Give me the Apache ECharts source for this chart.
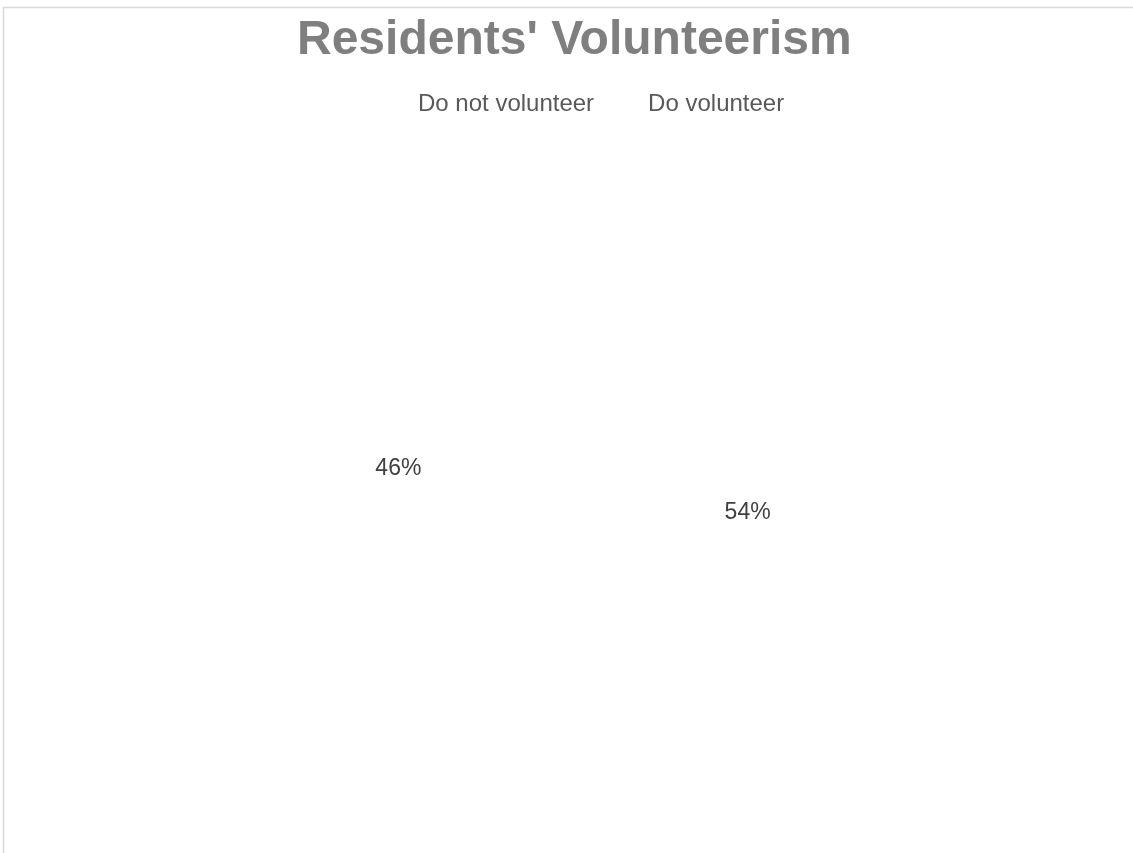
<!DOCTYPE html>
<html>
<head>
<meta charset="utf-8">
<title>Residents' Volunteerism</title>
<script src="https://cdn.jsdelivr.net/npm/echarts@6/dist/echarts.min.js"></script>
<style>
  html, body { margin: 0; padding: 0; background: #ffffff; }
  #chart { width: 1133px; height: 853px; }
</style>
</head>
<body>
<div id="chart"></div>
<script>
// Survey answers, in the order the slices are drawn clockwise from 12 o'clock
const categories = ['Do volunteer', 'Do not volunteer'];
const shares = [54, 46];
// Legend reads in this order
const legendOrder = ['Do not volunteer', 'Do volunteer'];

const chart = echarts.init(document.getElementById('chart'), null, { renderer: 'canvas' });

const FONT = '"Liberation Sans", Arial, sans-serif';

chart.setOption({
  backgroundColor: '#ffffff',
  animation: false,
  graphic: [{
    // chart frame; runs past the right and bottom edges of the page
    type: 'rect',
    silent: true,
    z: -1,
    shape: { x: 3.5, y: 7.5, width: 1300, height: 1000 },
    style: { fill: 'none', stroke: '#d9d9d9', lineWidth: 1.5 }
  }],
  title: {
    text: "Residents' Volunteerism",
    left: 297,
    top: 17,
    padding: 0,
    textStyle: {
      fontFamily: FONT,
      fontSize: 48,
      fontWeight: 'bold',
      color: '#7f7f7f'
    }
  },
  legend: {
    data: legendOrder,
    left: 399,
    top: 92,
    padding: 0,
    itemWidth: 14,
    itemHeight: 14,
    itemGap: 35,
    selectedMode: false,
    textStyle: { fontFamily: FONT, fontSize: 24, color: '#595959' }
  },
  series: [{
    type: 'pie',
    center: [573, 491],
    radius: [0, 346],
    startAngle: 90,
    clockwise: true,
    silent: true,
    itemStyle: { color: 'rgba(255,255,255,0)', borderWidth: 0 },
    label: {
      show: true,
      position: 'inside',
      formatter: '{c}%',
      fontFamily: FONT,
      fontSize: 23,
      color: '#404040'
    },
    labelLine: { show: false },
    emphasis: { disabled: true },
    data: categories.map((name, i) => ({ name: name, value: shares[i] }))
  }]
});
</script>
</body>
</html>
